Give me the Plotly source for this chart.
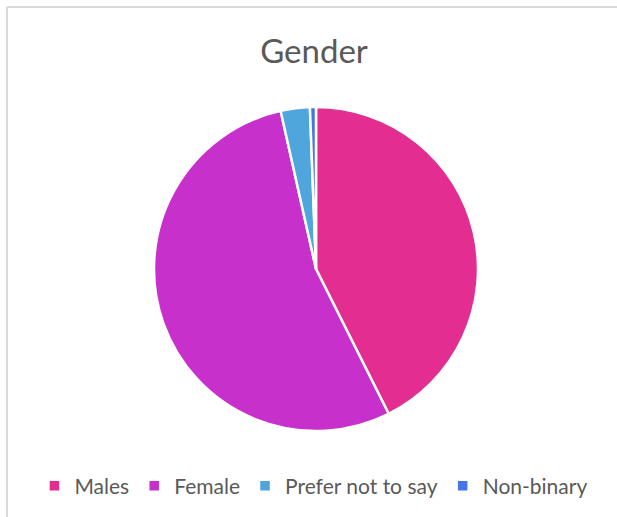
import plotly.graph_objects as go

# Gender split (percent of respondents)
labels = ["Males", "Female", "Prefer not to say", "Non-binary"]
values = [42.6, 53.9, 2.9, 0.6]
colors = ["#E32D91", "#C830CC", "#4EA6DC", "#4775E7"]

W, H = 617, 517

fig = go.Figure(go.Pie(
    labels=labels,
    values=values,
    sort=False,
    direction="clockwise",
    rotation=0,
    textinfo="none",
    hoverinfo="label+percent",
    marker=dict(colors=colors, line=dict(color="white", width=2.5)),
    domain=dict(x=[154 / W, 478 / W], y=[86 / H, 410 / H]),
))

# light chart-area border (top and left edges visible)
fig.add_shape(type="line", xref="paper", yref="paper",
              x0=7 / W, x1=1, y0=1 - 7 / H, y1=1 - 7 / H,
              line=dict(color="#D9D9D9", width=2))
fig.add_shape(type="line", xref="paper", yref="paper",
              x0=7 / W, x1=7 / W, y0=0, y1=1 - 7 / H,
              line=dict(color="#D9D9D9", width=2))

fig.update_layout(
    width=W, height=H,
    margin=dict(l=0, r=0, t=0, b=0),
    paper_bgcolor="white",
    font=dict(family="Lato", color="#595959"),
    title=dict(text="Gender", x=0.509, xanchor="center", y=1 - 51 / H, yanchor="middle",
               font=dict(size=33, color="#595959")),
    showlegend=True,
    legend=dict(orientation="h", x=0.508, xanchor="center", y=31 / H, yanchor="middle",
                font=dict(size=21, color="#595959"), itemwidth=30),
)

fig.write_html("out.html", config={"displayModeBar": False},
               post_script="document.body.style.margin='0px';document.body.style.overflow='hidden';")
